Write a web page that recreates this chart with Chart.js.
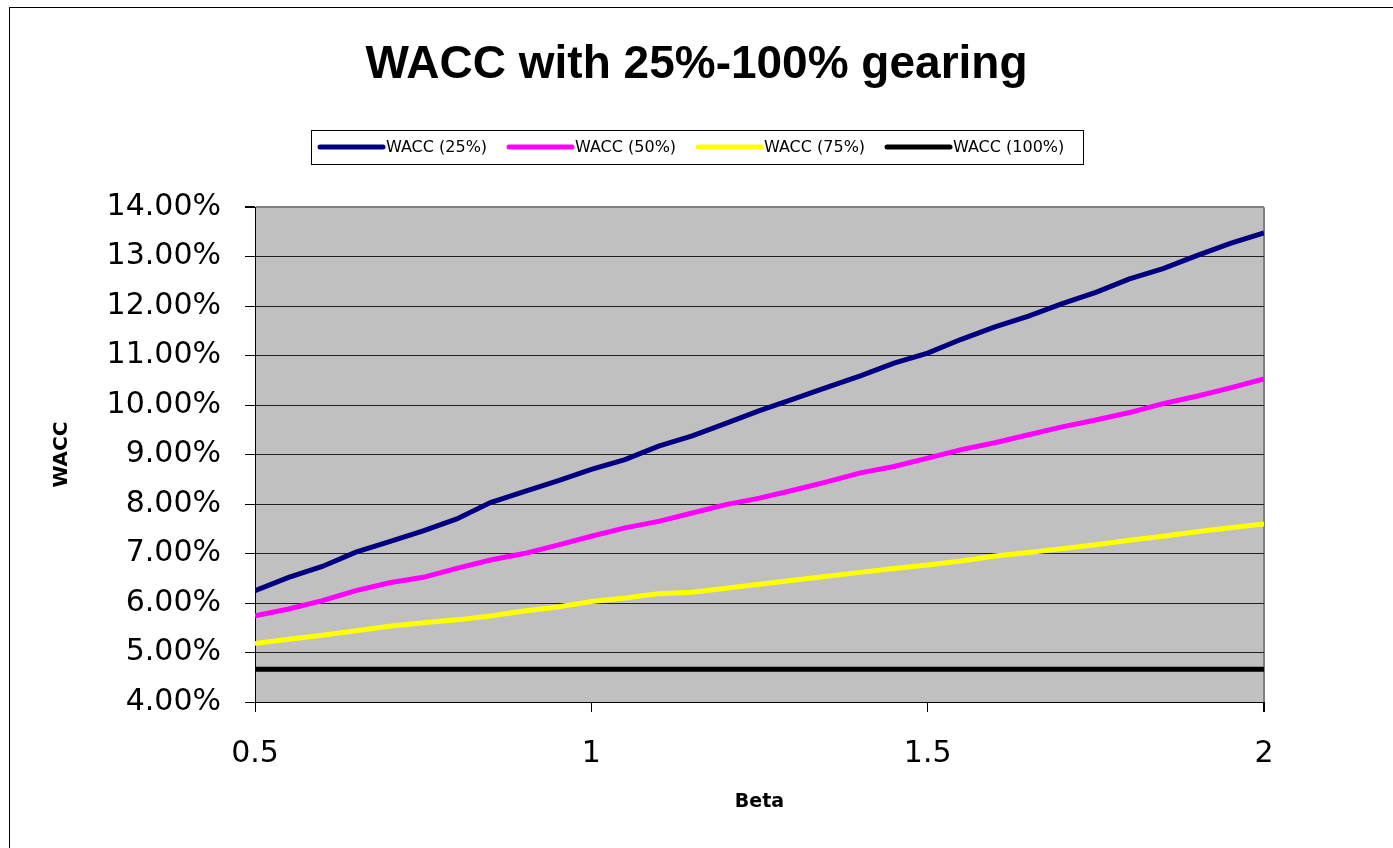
<!DOCTYPE html>
<html>
<head>
<meta charset="utf-8">
<script src="https://cdn.jsdelivr.net/npm/chart.js@4.4.0/dist/chart.umd.min.js"></script>
<style>
  html, body { margin: 0; padding: 0; background: #fff; }
</style>
</head>
<body>
<canvas id="myChart" width="1393" height="848"></canvas>
<script>
// beta on the x axis
const betas = [0.50, 0.55, 0.60, 0.65, 0.70, 0.75, 0.80, 0.85, 0.90, 0.95,
               1.00, 1.05, 1.10, 1.15, 1.20, 1.25, 1.30, 1.35, 1.40, 1.45,
               1.50, 1.55, 1.60, 1.65, 1.70, 1.75, 1.80, 1.85, 1.90, 1.95, 2.00];

// WACC in % for each gearing level
const wacc25 = [6.25, 6.52, 6.74, 7.03, 7.24, 7.46, 7.70, 8.03, 8.25, 8.47,
                8.70, 8.90, 9.17, 9.38, 9.63, 9.89, 10.12, 10.36, 10.59, 10.85,
                11.05, 11.33, 11.58, 11.80, 12.05, 12.28, 12.55, 12.76, 13.02, 13.27, 13.48];
const wacc50 = [5.74, 5.88, 6.05, 6.25, 6.41, 6.52, 6.70, 6.87, 7.00, 7.17,
                7.35, 7.52, 7.65, 7.82, 7.99, 8.12, 8.28, 8.45, 8.63, 8.76,
                8.93, 9.10, 9.24, 9.40, 9.56, 9.70, 9.85, 10.03, 10.18, 10.35, 10.53];
const wacc75 = [5.18, 5.27, 5.35, 5.44, 5.53, 5.60, 5.66, 5.74, 5.84, 5.92,
                6.03, 6.10, 6.19, 6.22, 6.30, 6.38, 6.46, 6.54, 6.62, 6.70,
                6.77, 6.85, 6.95, 7.02, 7.10, 7.18, 7.27, 7.35, 7.44, 7.52, 7.60];
const wacc100 = [4.66, 4.66, 4.66, 4.66, 4.66, 4.66, 4.66, 4.66, 4.66, 4.66,
                 4.66, 4.66, 4.66, 4.66, 4.66, 4.66, 4.66, 4.66, 4.66, 4.66,
                 4.66, 4.66, 4.66, 4.66, 4.66, 4.66, 4.66, 4.66, 4.66, 4.66, 4.66];

const seriesLabels = ['WACC (25%)', 'WACC (50%)', 'WACC (75%)', 'WACC (100%)'];
const seriesColors = ['#000080', '#FF00FF', '#FFFF00', '#000000'];
const yTicks = [4, 5, 6, 7, 8, 9, 10, 11, 12, 13, 14];
const xTicks = [0.5, 1, 1.5, 2];

const tickFont = 'DejaVu Sans';

function points(values) {
  return values.map((v, i) => ({ x: betas[i], y: v }));
}

// grey plot area, outer frame and the boxed legend
const chartDecor = {
  id: 'chartDecor',
  beforeDraw(chart) {
    const { ctx, chartArea: a } = chart;
    ctx.save();
    ctx.fillStyle = '#fff';
    ctx.fillRect(0, 0, chart.width, chart.height);
    ctx.fillStyle = '#C0C0C0';
    ctx.fillRect(a.left, a.top, a.right - a.left, a.bottom - a.top);
    ctx.strokeStyle = '#000';
    ctx.lineWidth = 1;
    ctx.strokeRect(9.5, 7.5, chart.width + 40, chart.height + 40);
    ctx.restore();
  },
  afterDraw(chart) {
    const ctx = chart.ctx;
    ctx.save();
    ctx.strokeStyle = '#000';
    ctx.lineWidth = 1;
    ctx.strokeRect(311.5, 130.5, 772, 34);
    ctx.font = '16px "' + tickFont + '"';
    ctx.textBaseline = 'middle';
    ctx.fillStyle = '#000';
    chart.data.datasets.forEach((ds, i) => {
      const x = 320 + i * 189;
      ctx.strokeStyle = ds.borderColor;
      ctx.lineWidth = 5;
      ctx.lineCap = 'round';
      ctx.beginPath();
      ctx.moveTo(x, 147);
      ctx.lineTo(x + 63, 147);
      ctx.stroke();
      ctx.fillText(ds.label, x + 66, 148);
    });
    ctx.restore();
  }
};

const ctx = document.getElementById('myChart').getContext('2d');
const myChart = new Chart(ctx, {
  type: 'line',
  data: {
    datasets: [wacc25, wacc50, wacc75, wacc100].map((vals, i) => ({
      label: seriesLabels[i],
      data: points(vals),
      borderColor: seriesColors[i],
      backgroundColor: seriesColors[i],
      borderWidth: 5,
      pointRadius: 0,
      tension: 0,
      fill: false
    }))
  },
  options: {
    responsive: false,
    animation: false,
    layout: { padding: 0 },
    plugins: {
      legend: { display: false },
      tooltip: { enabled: false },
      title: {
        display: true,
        text: 'WACC with 25%-100% gearing',
        color: '#000',
        font: { family: 'Liberation Sans', size: 46, weight: 'bold' },
        padding: { top: 38, bottom: 114 }
      }
    },
    scales: {
      x: {
        type: 'linear',
        min: 0.5,
        max: 2,
        afterBuildTicks(scale) { scale.ticks = xTicks.map(v => ({ value: v })); },
        ticks: {
          color: '#000',
          font: { family: tickFont, size: 30 },
          padding: 24,
          maxRotation: 0,
          callback: v => String(v)
        },
        grid: {
          color: c => (c.tick && c.tick.value === 2 ? '#808080' : 'rgba(0,0,0,0)'),
          lineWidth: c => (c.tick && c.tick.value === 2 ? 2 : 1),
          tickColor: '#000',
          tickLength: 10
        },
        border: { display: true, color: '#000', width: 1 },
        title: {
          display: true,
          text: 'Beta',
          color: '#000',
          font: { family: tickFont, size: 19, weight: 'bold' },
          padding: { top: 0, bottom: 35 }
        },
        afterFit(scale) { scale.height = 146; }
      },
      y: {
        min: 4,
        max: 14,
        afterBuildTicks(scale) { scale.ticks = yTicks.map(v => ({ value: v })); },
        ticks: {
          color: '#000',
          font: { family: tickFont, size: 30 },
          padding: 24,
          callback: v => v.toFixed(2) + '%'
        },
        grid: {
          color: c => (c.tick && c.tick.value === 14 ? '#808080' : '#222'),
          lineWidth: c => (c.tick && c.tick.value === 14 ? 2 : 1),
          tickColor: '#000',
          tickLength: 10
        },
        border: { display: true, color: '#000', width: 1 },
        title: {
          display: true,
          text: 'WACC',
          color: '#000',
          font: { family: tickFont, size: 20, weight: 'bold' },
          padding: { top: 50, bottom: 0 }
        },
        afterFit(scale) { scale.width = 255; }
      },
      // empty right-hand strip so the plot stops where the reference does
      yRight: {
        position: 'right',
        min: 4,
        max: 14,
        ticks: { display: false },
        grid: { display: false },
        border: { display: false },
        afterFit(scale) { scale.width = 129; }
      }
    }
  },
  plugins: [chartDecor]
});
</script>
</body>
</html>
